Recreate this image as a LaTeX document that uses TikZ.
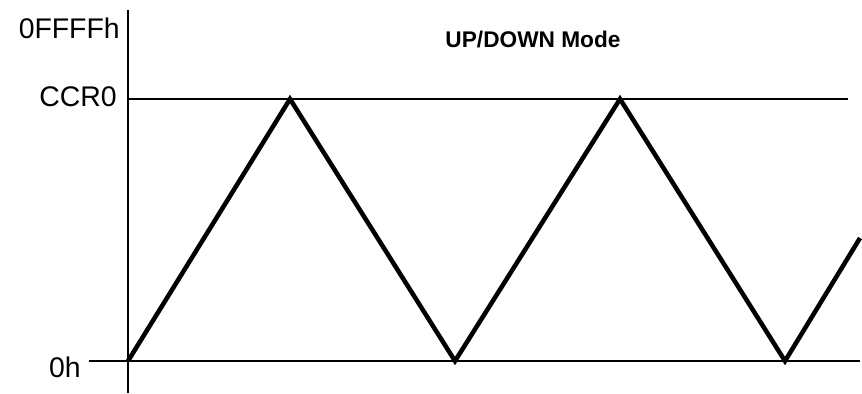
\documentclass[tikz,border=0pt]{standalone}
\usepackage{fontspec}
\setmainfont{Liberation Sans}
\usepackage{tikz}
\usetikzlibrary{positioning}
\tikzset{
  level/.style={font=\fontsize{21.3}{25}\selectfont, anchor=base east, inner sep=0pt},
  heading/.style={font=\fontsize{17}{20}\selectfont\bfseries, anchor=base, inner sep=0pt},
  axisline/.style={line width=1.6pt, draw=black},
  ramp/.style={line width=3.4pt, draw=black, line join=miter},
}

\begin{document}
\begin{tikzpicture}[x=0.75pt, y=-0.75pt]
  \useasboundingbox[fill=white] (0,0) rectangle (862,393);
  % axis ends
  \coordinate (ytop) at (128,10);
  \coordinate (ybot) at (128,393);
  \coordinate (ccrl) at (128,99);
  \coordinate (ccrr) at (848,99);
  \coordinate (zerol) at (89,361);
  \coordinate (zeror) at (860,361);
  % count levels
  \node[level] (lblmax) at (120,38) {0FFFFh};
  \node[level] (lblccr) at (117,106) {CCR0};
  \node[level] (lblzero) at (81,377) {0h};
  \node[heading] (title) at (533,47) {UP/DOWN Mode};

  \draw[axisline] (ytop) -- (ybot);
  \draw[axisline] (ccrl) -- (ccrr);
  \draw[axisline] (zerol) -- (zeror);

  % counter up/down
  \coordinate (v0) at (128,361);
  \coordinate (v1) at (290,99);
  \coordinate (v2) at (455,361);
  \coordinate (v3) at (620,99);
  \coordinate (v4) at (785,361);
  \coordinate (v5) at (860,238);
  \draw[ramp] (v0) -- (v1) -- (v2) -- (v3) -- (v4) -- (v5);
\end{tikzpicture}
\end{document}
